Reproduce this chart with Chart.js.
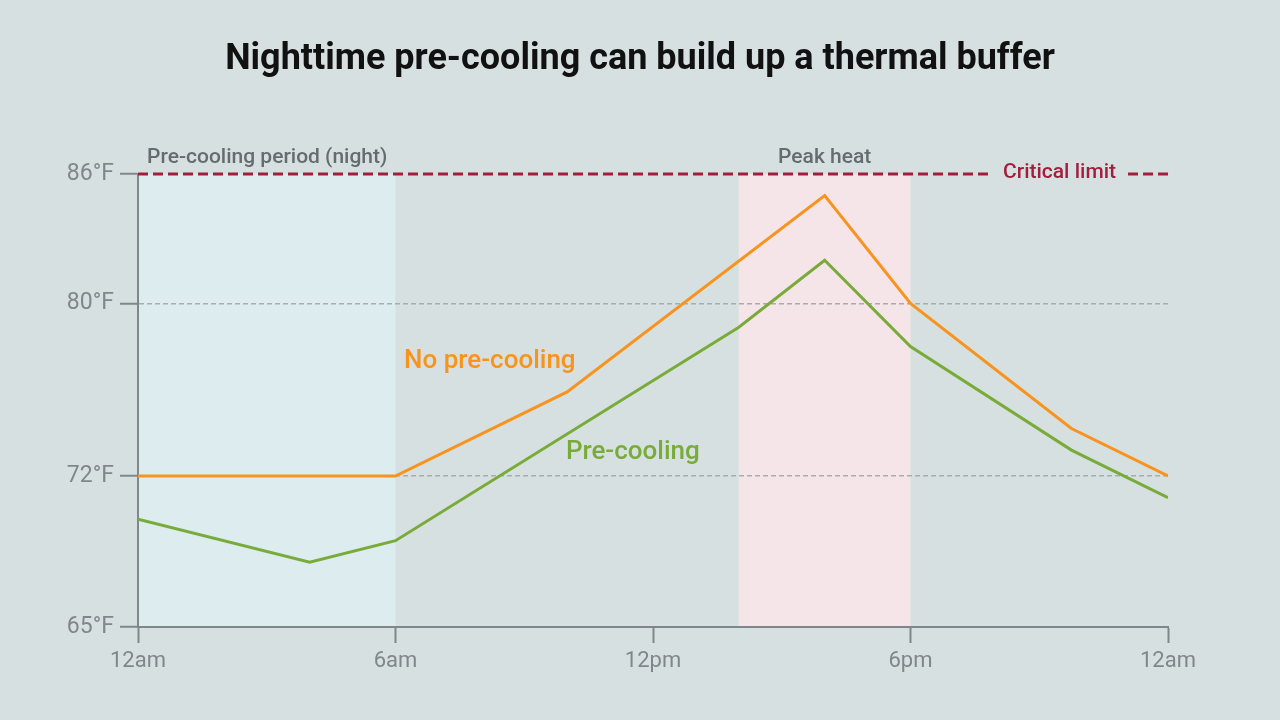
<!DOCTYPE html>
<html>
<head>
<meta charset="utf-8">
<title>Nighttime pre-cooling</title>
<script src="https://cdn.jsdelivr.net/npm/chart.js@4.4.0/dist/chart.umd.min.js"></script>
<style>
  html, body { margin: 0; padding: 0; background: #d7e0e0; }
  #wrap { width: 1280px; height: 720px; position: relative; }
</style>
</head>
<body>
<div id="wrap"><canvas id="tempChart"></canvas></div>
<script>
// hours after midnight
const noPreHours = [0, 6, 10, 16, 18, 21.75, 24];
const noPreTemps = [72, 72, 75.9, 85, 80, 74.2, 72];

const preHours = [0, 4, 6, 14, 16, 18, 21.75, 24];
const preTemps = [70, 68, 69, 78.9, 82, 78, 73.2, 71];

const xTickValues = [0, 6, 12, 18, 24];
const xTickLabels = ["12am", "6am", "12pm", "6pm", "12am"];
const yTickValues = [65, 72, 80, 86];

const nightBand = [0, 6];
const peakBand = [14, 18];
const criticalLimit = 86;

const TITLE = "Nighttime pre-cooling can build up a thermal buffer";
const FONT = "Roboto";
const AXIS_GREY = "#80878a";
const ORANGE = "#f7931e";
const GREEN = "#79ab3a";
const CRIT_RED = "#a51d3d";

function toPoints(xs, ys) {
  return xs.map((x, i) => ({ x: x, y: ys[i] }));
}

const decorPlugin = {
  id: "decor",
  beforeDraw(chart) {
    const { ctx, chartArea, scales } = chart;
    const x = scales.x;
    ctx.save();
    ctx.fillStyle = "#d7e0e0";
    ctx.fillRect(0, 0, chart.width, chart.height);

    ctx.fillStyle = "#dcecef";
    ctx.fillRect(x.getPixelForValue(nightBand[0]), chartArea.top,
      x.getPixelForValue(nightBand[1]) - x.getPixelForValue(nightBand[0]),
      chartArea.bottom - chartArea.top);

    ctx.fillStyle = "#f5e5e8";
    ctx.fillRect(x.getPixelForValue(peakBand[0]), chartArea.top,
      x.getPixelForValue(peakBand[1]) - x.getPixelForValue(peakBand[0]),
      chartArea.bottom - chartArea.top);

    // title, centred on the whole canvas
    ctx.fillStyle = "#111111";
    ctx.font = "bold 36px " + FONT;
    ctx.textAlign = "center";
    ctx.textBaseline = "alphabetic";
    ctx.fillText(TITLE, chart.width / 2, 69);
    ctx.restore();
  },
  beforeDatasetsDraw(chart) {
    const { ctx, chartArea, scales } = chart;
    const yc = scales.y.getPixelForValue(criticalLimit);

    ctx.save();
    ctx.font = "500 21px " + FONT;
    const label = "Critical limit";
    const textLeft = 1003;
    const textRight = textLeft + ctx.measureText(label).width;

    ctx.strokeStyle = CRIT_RED;
    ctx.lineWidth = 3;
    ctx.setLineDash([10, 5]);
    ctx.beginPath();
    ctx.moveTo(chartArea.left, yc);
    ctx.lineTo(textLeft - 13, yc);
    ctx.moveTo(textRight + 12, yc);
    ctx.lineTo(chartArea.right + 2, yc);
    ctx.stroke();

    ctx.fillStyle = CRIT_RED;
    ctx.textBaseline = "middle";
    ctx.fillText(label, textLeft, yc - 1);
    ctx.restore();
  },
  afterDatasetsDraw(chart) {
    const { ctx, chartArea, scales } = chart;
    const x = scales.x;
    const y = scales.y;
    ctx.save();
    ctx.textBaseline = "middle";

    ctx.font = "500 21px " + FONT;
    ctx.fillStyle = "#656c6f";
    ctx.textAlign = "left";
    ctx.fillText("Pre-cooling period (night)", x.getPixelForValue(nightBand[0]) + 9, chartArea.top - 16);
    ctx.textAlign = "center";
    ctx.fillText("Peak heat", (x.getPixelForValue(peakBand[0]) + x.getPixelForValue(peakBand[1])) / 2, chartArea.top - 16);

    ctx.textAlign = "left";
    ctx.font = "500 26px " + FONT;
    ctx.fillStyle = ORANGE;
    ctx.fillText("No pre-cooling", x.getPixelForValue(6.2), y.getPixelForValue(77.3));
    ctx.fillStyle = GREEN;
    ctx.fillText("Pre-cooling", x.getPixelForValue(9.97), y.getPixelForValue(73.1));
    ctx.restore();
  },
};

const chart = new Chart(document.getElementById("tempChart"), {
  type: "line",
  data: {
    datasets: [
      {
        label: "No pre-cooling",
        data: toPoints(noPreHours, noPreTemps),
        borderColor: ORANGE,
        borderWidth: 3,
        pointRadius: 0,
        tension: 0,
      },
      {
        label: "Pre-cooling",
        data: toPoints(preHours, preTemps),
        borderColor: GREEN,
        borderWidth: 3,
        pointRadius: 0,
        tension: 0,
      },
    ],
  },
  options: {
    responsive: true,
    maintainAspectRatio: false,
    animation: false,
    layout: { padding: { left: 0, right: 112, top: 174, bottom: 0 } },
    scales: {
      x: {
        type: "linear",
        min: 0,
        max: 24,
        afterFit(scale) { scale.height = 93; },
        afterBuildTicks(scale) {
          scale.ticks = xTickValues.map((v) => ({ value: v }));
        },
        ticks: {
          color: AXIS_GREY,
          font: { family: FONT, size: 22 },
          padding: 5,
          maxRotation: 0,
          callback: (v) => xTickLabels[xTickValues.indexOf(v)],
        },
        grid: {
          drawOnChartArea: false,
          drawTicks: true,
          tickLength: 16,
          tickWidth: 2,
          tickColor: AXIS_GREY,
        },
        border: { display: true, color: AXIS_GREY, width: 2 },
      },
      y: {
        min: 65,
        max: 86,
        afterFit(scale) { scale.width = 138; },
        afterBuildTicks(scale) {
          scale.ticks = yTickValues.map((v) => ({ value: v }));
        },
        ticks: {
          color: AXIS_GREY,
          font: { family: FONT, size: 23 },
          padding: 6,
          callback: (v) => v + "°F",
        },
        grid: {
          color: (c) => (c.tick && (c.tick.value === 72 || c.tick.value === 80) ? "#a6adaf" : "rgba(0,0,0,0)"),
          lineWidth: 1.5,
          drawTicks: true,
          tickLength: 18,
          tickWidth: 2,
          tickColor: AXIS_GREY,
        },
        border: { display: true, color: AXIS_GREY, width: 2, dash: [5, 3] },
      },
    },
    plugins: {
      legend: { display: false },
      tooltip: { enabled: false },
      title: { display: false },
    },
  },
  plugins: [decorPlugin],
});
</script>
</body>
</html>
